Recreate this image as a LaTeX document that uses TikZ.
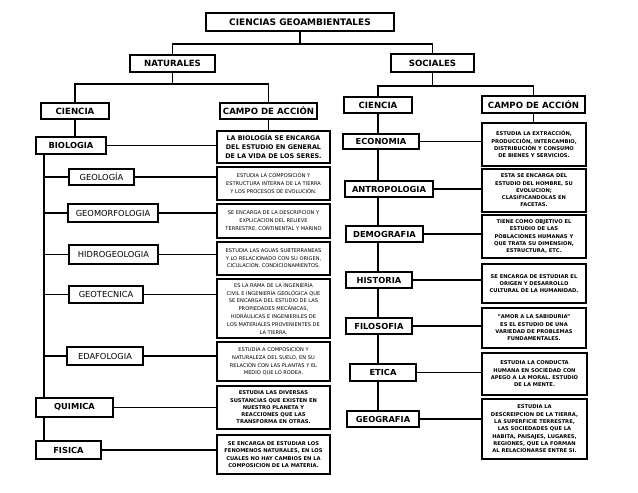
\documentclass[tikz,border=0pt]{standalone}
\usepackage{fontspec}
\setmainfont{DejaVu Sans}
\usetikzlibrary{calc,backgrounds,shadows}
\begin{document}
\begin{tikzpicture}[x=1pt,y=-1pt,
  bx/.style={draw,line width=1.7pt,fill=white,inner sep=0pt,align=center,
    drop shadow={shadow xshift=1pt,shadow yshift=-1pt,fill=black!25}},
  hd/.style={bx,font=\fontsize{8.6}{10}\selectfont\bfseries},
  sc/.style={bx,font=\fontsize{8.3}{10}\selectfont\bfseries},
  sub/.style={bx,font=\fontsize{8.3}{10}\selectfont},
  dsb/.style={bx,font=\fontsize{5.2}{7.3}\selectfont\bfseries},
  dsr/.style={bx,font=\fontsize{5.1}{7.9}\selectfont},
  ln/.style={line width=1.8pt}]
\useasboundingbox (0,0) rectangle (638,493);

% top levels
\node[hd,font=\fontsize{9}{10}\selectfont\bfseries,minimum width=188pt,minimum height=18pt] (title) at (300,22) {CIENCIAS GEOAMBIENTALES};
\node[hd,minimum width=85pt,minimum height=17pt] (nat) at (172.5,63.5) {NATURALES};
\node[hd,minimum width=83pt,minimum height=18pt] (soc) at (432.5,63) {SOCIALES};
\node[hd,minimum width=68pt,minimum height=16pt] (cl) at (75,111) {CIENCIA};
\node[hd,minimum width=97pt,minimum height=16pt] (cal) at (268.5,111) {CAMPO DE ACCIÓN};
\node[hd,minimum width=68pt,minimum height=16pt] (cr) at (378,105) {CIENCIA};
\node[hd,minimum width=103pt,minimum height=17pt] (car) at (533.5,104.5) {CAMPO DE ACCIÓN};

% natural sciences
\node[sc,minimum width=70pt,minimum height=17pt] (bio) at (71,145.5) {BIOLOGIA};
\node[bx,font=\fontsize{6.4}{9}\selectfont\bfseries,minimum width=113pt,minimum height=32pt] (biod) at (273.5,147)
  {LA BIOLOGÍA SE ENCARGA\\DEL ESTUDIO EN GENERAL\\DE LA VIDA DE LOS SERES.};
\node[sub,minimum width=65pt,minimum height=16pt] (geol) at (101.5,177) {GEOLOGÍA};
\node[dsr,minimum width=113pt,minimum height=33pt] (geold) at (273.5,183.5)
  {ESTUDIA LA COMPOSICIÓN Y\\ESTRUCTURA INTERNA DE LA TIERRA\\Y LOS PROCESOS DE EVOLUCIÓN.};
\node[sub,minimum width=90pt,minimum height=18pt] (geom) at (113,213) {GEOMORFOLOGIA};
\node[dsr,minimum width=113pt,minimum height=34pt] (geomd) at (273.5,221)
  {SE ENCARGA DE LA DESCRIPCION Y\\EXPLICACION DEL RELIEVE\\TERRESTRE, CONTINENTAL Y MARINO};
\node[sub,minimum width=89pt,minimum height=19pt] (hid) at (113.5,254.5) {HIDROGEOLOGIA};
\node[dsr,minimum width=113pt,minimum height=33pt] (hidd) at (273.5,258.5)
  {ESTUDIA LAS AGUAS SUBTERRANEAS\\Y LO RELACIONADO CON SU ORIGEN,\\CICULACION, CONDICIONAMIENTOS.};
\node[sub,minimum width=74pt,minimum height=17pt] (geot) at (106,294.5) {GEOTECNICA};
\node[dsr,minimum width=113pt,minimum height=59pt] (geotd) at (273.5,308.5)
  {ES LA RAMA DE LA INGENIERÍA\\CIVIL E INGENIERÍA GEOLÓGICA QUE\\SE ENCARGA DEL ESTUDIO DE LAS\\PROPIEDADES MECÁNICAS,\\HIDRÁULICAS E INGENIERILES DE\\LOS MATERIALES PROVENIENTES DE\\LA TIERRA.};
\node[sub,minimum width=76pt,minimum height=18pt] (eda) at (105,356) {EDAFOLOGIA};
\node[dsr,minimum width=113pt,minimum height=39pt] (edad) at (273.5,361.5)
  {ESTUDIA A COMPOSICION Y\\NATURALEZA DEL SUELO, EN SU\\RELACION CON LAS PLANTAS Y EL\\MEDIO QUE LO RODEA.};
\node[sc,minimum width=77pt,minimum height=19pt] (qui) at (74.5,407.5) {QUIMICA};
\node[dsb,minimum width=113pt,minimum height=43pt] (quid) at (273.5,407.5)
  {ESTUDIA LAS DIVERSAS\\SUSTANCIAS QUE EXISTEN EN\\NUESTRO PLANETA Y\\REACCIONES QUE LAS\\TRANSFORMA EN OTRAS.};
\node[sc,minimum width=65pt,minimum height=18pt] (fis) at (68.5,450) {FISICA};
\node[dsb,minimum width=113pt,minimum height=39pt] (fisd) at (273.5,454.5)
  {SE ENCARGA DE ESTUDIAR LOS\\FENOMENOS NATURALES, EN LOS\\CUALES NO HAY CAMBIOS EN LA\\COMPOSICION DE LA MATERIA.};

% social sciences
\node[sc,minimum width=76pt,minimum height=15pt] (eco) at (381,141.5) {ECONOMIA};
\node[dsb,minimum width=104pt,minimum height=43pt] (ecod) at (534,144.5)
  {ESTUDIA LA EXTRACCIÓN,\\PRODUCCIÓN, INTERCAMBIO,\\DISTRIBUCIÓN Y CONSUMO\\DE BIENES Y SERVICIOS.};
\node[sc,minimum width=88pt,minimum height=16pt] (ant) at (389,189) {ANTROPOLOGIA};
\node[dsb,minimum width=104pt,minimum height=43pt] (antd) at (534,190.5)
  {ESTA SE ENCARGA DEL\\ESTUDIO DEL HOMBRE, SU\\EVOLUCION;\\CLASIFICANDOLAS EN\\FACETAS.};
\node[sc,minimum width=77pt,minimum height=16pt] (dem) at (384.5,234) {DEMOGRAFIA};
\node[dsb,minimum width=104pt,minimum height=43pt] (demd) at (534,236.5)
  {TIENE COMO OBJETIVO EL\\ESTUDIO DE LAS\\POBLACIONES HUMANAS Y\\QUE TRATA SU DIMENSION,\\ESTRUCTURA, ETC.};
\node[sc,minimum width=66pt,minimum height=16pt] (his) at (379,280) {HISTORIA};
\node[dsb,minimum width=104pt,minimum height=39pt] (hisd) at (534,283.5)
  {SE ENCARGA DE ESTUDIAR EL\\ORIGEN Y DESARROLLO\\CULTURAL DE LA HUMANIDAD.};
\node[sc,minimum width=66pt,minimum height=16pt] (fil) at (379,326) {FILOSOFIA};
\node[dsb,minimum width=104pt,minimum height=40pt] (fild) at (534,328)
  {"AMOR A LA SABIDURIA"\\ES EL ESTUDIO DE UNA\\VARIEDAD DE PROBLEMAS\\FUNDAMENTALES.};
\node[sc,minimum width=66pt,minimum height=17pt] (eti) at (383,372.5) {ETICA};
\node[dsb,minimum width=105pt,minimum height=42pt] (etid) at (534.5,374)
  {ESTUDIA LA CONDUCTA\\HUMANA EN SOCIEDAD CON\\APEGO A LA MORAL. ESTUDIO\\DE LA MENTE.};
\node[sc,minimum width=72pt,minimum height=16pt] (geo) at (383,419) {GEOGRAFIA};
\node[dsb,minimum width=105pt,minimum height=60pt] (geod) at (534.5,429)
  {ESTUDIA LA\\DESCREIPCION DE LA TIERRA,\\LA SUPERFICIE TERRESTRE,\\LAS SOCIEDADES QUE LA\\HABITA, PAISAJES, LUGARES,\\REGIONES, QUE LA FORMAN\\AL RELACIONARSE ENTRE SI.};

\begin{scope}[on background layer]
\fill[white] (0,0) rectangle (638,493);
% tree
\draw[ln] (title.south) -- ++(0,12) coordinate (j0);
\draw[ln] (nat.north) |- (j0) -| (soc.north);
\draw[ln] (nat.south) -- ++(0,11) coordinate (j1);
\draw[ln] (cl.north) |- (j1) -| (cal.north);
\draw[ln] (soc.south) -- ++(0,13) coordinate (j2);
\draw[ln] (cr.north) |- (j2) -| (car.north);
% natural side
\draw[ln] (cl.south) -- (cl.south |- bio.north);
\draw[ln] (cal.south) -- (cal.south |- biod.north);
\coordinate (tk) at ($(bio.south west)+(9,0)$);
\draw[ln] (tk) -- (tk |- fis.north);
\foreach \n in {geol,geom,hid,geot,eda}
  \draw[ln] (tk |- \n.west) -- (\n.west);
\foreach \a/\b in {bio/biod,geol/geold,geom/geomd,hid/hidd,geot/geotd,eda/edad,qui/quid,fis/fisd}
  \draw[ln] (\a.east) -- (\a.east -| \b.west);
% social side
\draw[ln] (cr.south) -- (cr.south |- geo.north);
\draw[ln] (car.south) -- (car.south |- ecod.north);
\foreach \a/\b in {eco/ecod,ant/antd,dem/demd,his/hisd,fil/fild,eti/etid,geo/geod}
  \draw[ln] (\a.east) -- (\a.east -| \b.west);
\end{scope}
\end{tikzpicture}
\end{document}
